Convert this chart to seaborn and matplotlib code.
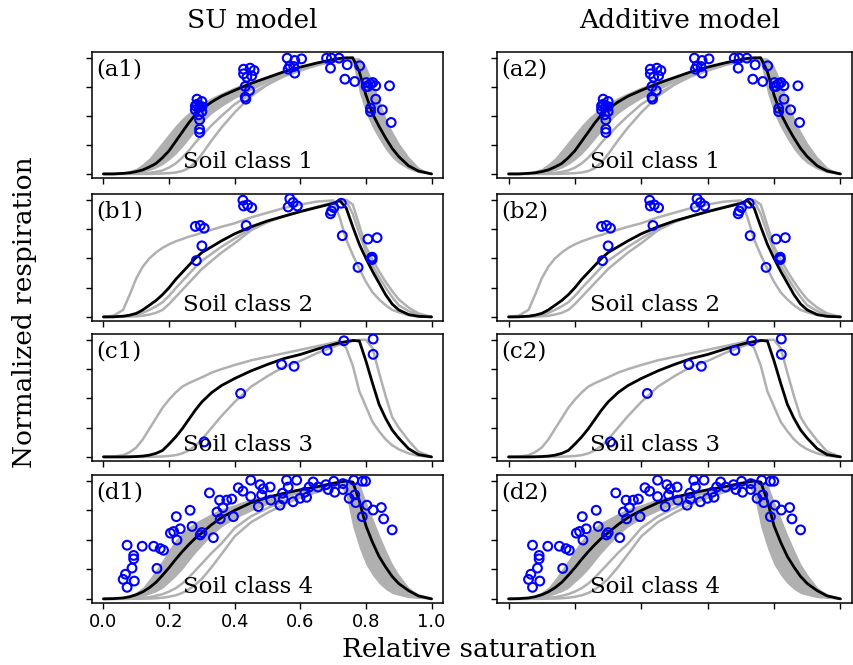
import numpy as np
import matplotlib
matplotlib.use('Agg')
import matplotlib.pyplot as plt
import seaborn as sns

# relative saturation grid used for all model curves
sat = [0, .03, .06, .08, .1, .12, .14, .16, .18, .2, .22, .24, .26, .28, .3, .33, .36,
       .4, .45, .5, .55, .6, .65, .7, .72, .74, .76, .78, .8, .82, .84, .86, .88, .9, .93, .96, 1.0]

# soil class 1
black_a = [0, 0, 0.005, 0.01, 0.02, 0.035, 0.06, 0.09, 0.14, 0.2, 0.28, 0.36, 0.44, 0.51, 0.56, 0.62, 0.67,
           0.72, 0.78, 0.83, 0.88, 0.92, 0.955, 0.985, 0.995, 1.0, 1.0, 0.88, 0.68, 0.52, 0.41, 0.31, 0.22, 0.15, 0.07, 0.025, 0]
band_hi_a = [0, 0.003, 0.015, 0.03, 0.05, 0.09, 0.14, 0.21, 0.28, 0.35, 0.42, 0.48, 0.53, 0.57, 0.61, 0.66, 0.70,
             0.75, 0.8, 0.845, 0.885, 0.925, 0.96, 0.99, 1.0, 1.0, 1.0, 1.0, 0.93, 0.8, 0.64, 0.49, 0.37, 0.27, 0.15, 0.06, 0]
band_lo_a = [0, 0, 0.003, 0.006, 0.01, 0.018, 0.03, 0.05, 0.08, 0.12, 0.17, 0.23, 0.3, 0.37, 0.44, 0.52, 0.58,
             0.65, 0.72, 0.79, 0.85, 0.9, 0.94, 0.975, 0.985, 0.99, 0.95, 0.7, 0.52, 0.4, 0.3, 0.21, 0.14, 0.09, 0.04, 0.01, 0]
ga1 = [0, 0, 0, 0, 0, 0, 0, 0.002, 0.004, 0.007, 0.012, 0.025, 0.05, 0.1, 0.17, 0.29, 0.4,
       0.53, 0.67, 0.77, 0.85, 0.9, 0.94, 0.975, 0.985, 0.995, 1.0, 0.88, 0.7, 0.55, 0.42, 0.31, 0.22, 0.15, 0.07, 0.025, 0]
ga2 = [0, 0, 0.001, 0.002, 0.003, 0.006, 0.01, 0.018, 0.03, 0.055, 0.09, 0.14, 0.2, 0.27, 0.33, 0.42, 0.5,
       0.6, 0.69, 0.77, 0.84, 0.89, 0.935, 0.97, 0.98, 0.99, 1.0, 0.92, 0.76, 0.6, 0.47, 0.36, 0.26, 0.18, 0.09, 0.03, 0]

# soil class 2
black_b = [0, 0.001, 0.006, 0.015, 0.03, 0.06, 0.1, 0.14, 0.19, 0.25, 0.32, 0.38, 0.44, 0.5, 0.55, 0.6, 0.65,
           0.71, 0.77, 0.82, 0.86, 0.9, 0.935, 0.97, 0.995, 0.93, 0.77, 0.62, 0.5, 0.39, 0.29, 0.19, 0.11, 0.06, 0.02, 0.005, 0]
gb1 = [0, 0.01, 0.06, 0.19, 0.33, 0.43, 0.5, 0.55, 0.59, 0.62, 0.645, 0.665, 0.685, 0.7, 0.72, 0.745, 0.77,
       0.8, 0.85, 0.89, 0.93, 0.96, 0.985, 0.995, 0.85, 0.66, 0.53, 0.41, 0.3, 0.21, 0.15, 0.1, 0.06, 0.04, 0.015, 0.004, 0]
gb2 = [0, 0, 0.001, 0.003, 0.005, 0.01, 0.02, 0.035, 0.06, 0.11, 0.17, 0.23, 0.29, 0.35, 0.41, 0.48, 0.55,
       0.63, 0.74, 0.81, 0.86, 0.9, 0.94, 0.975, 0.99, 1.0, 0.96, 0.78, 0.6, 0.49, 0.39, 0.3, 0.22, 0.15, 0.08, 0.03, 0]
gb3 = [0, 0.001, 0.003, 0.009, 0.018, 0.035, 0.06, 0.09, 0.125, 0.18, 0.245, 0.305, 0.365, 0.425, 0.48, 0.54, 0.6,
       0.67, 0.755, 0.815, 0.86, 0.9, 0.937, 0.972, 0.99, 0.99, 0.88, 0.71, 0.56, 0.44, 0.34, 0.25, 0.17, 0.1, 0.05, 0.015, 0]

# soil class 3
black_c = [0, 0, 0, 0.001, 0.003, 0.007, 0.015, 0.03, 0.055, 0.11, 0.17, 0.24, 0.32, 0.4, 0.47, 0.55, 0.61,
           0.67, 0.735, 0.79, 0.84, 0.875, 0.92, 0.96, 0.975, 0.985, 0.995, 0.99, 0.82, 0.63, 0.45, 0.33, 0.23, 0.16, 0.07, 0.02, 0]
gc1 = [0, 0.002, 0.015, 0.04, 0.08, 0.15, 0.24, 0.33, 0.42, 0.49, 0.55, 0.6, 0.63, 0.655, 0.68, 0.72, 0.75,
       0.785, 0.825, 0.855, 0.885, 0.915, 0.945, 0.975, 0.99, 0.93, 0.78, 0.56, 0.43, 0.3, 0.22, 0.15, 0.1, 0.065, 0.03, 0.01, 0]
gc2 = [0, 0, 0, 0, 0, 0, 0.001, 0.002, 0.004, 0.008, 0.015, 0.03, 0.055, 0.095, 0.15, 0.25, 0.35,
       0.47, 0.6, 0.69, 0.77, 0.82, 0.885, 0.94, 0.96, 0.975, 0.99, 1.0, 1.0, 0.93, 0.72, 0.52, 0.34, 0.25, 0.14, 0.045, 0]

# soil class 4
black_d = [0, 0.002, 0.008, 0.018, 0.035, 0.06, 0.095, 0.14, 0.2, 0.265, 0.335, 0.4, 0.46, 0.515, 0.56, 0.63, 0.69,
           0.75, 0.815, 0.86, 0.895, 0.925, 0.95, 0.98, 0.99, 1.0, 0.99, 0.83, 0.62, 0.48, 0.36, 0.27, 0.19, 0.13, 0.07, 0.025, 0]
band_hi_d = [0, 0.003, 0.015, 0.035, 0.06, 0.1, 0.17, 0.25, 0.33, 0.42, 0.5, 0.56, 0.61, 0.65, 0.68, 0.725, 0.765,
             0.8, 0.85, 0.88, 0.91, 0.935, 0.96, 0.985, 0.995, 1.0, 1.0, 0.98, 0.83, 0.69, 0.55, 0.42, 0.3, 0.21, 0.1, 0.03, 0]
band_lo_d = [0, 0, 0.003, 0.006, 0.01, 0.02, 0.04, 0.06, 0.09, 0.14, 0.19, 0.25, 0.32, 0.39, 0.45, 0.54, 0.61,
             0.68, 0.745, 0.8, 0.855, 0.9, 0.935, 0.97, 0.975, 0.87, 0.61, 0.43, 0.29, 0.2, 0.13, 0.08, 0.045, 0.03, 0.01, 0.003, 0]
gd1 = [0, 0, 0, 0, 0.001, 0.002, 0.003, 0.005, 0.01, 0.018, 0.03, 0.05, 0.08, 0.12, 0.17, 0.27, 0.38,
       0.53, 0.65, 0.73, 0.8, 0.86, 0.905, 0.95, 0.97, 0.98, 0.99, 0.9, 0.72, 0.56, 0.43, 0.32, 0.23, 0.16, 0.08, 0.03, 0]
gd2 = [0, 0, 0.001, 0.002, 0.004, 0.008, 0.015, 0.026, 0.04, 0.062, 0.09, 0.13, 0.18, 0.24, 0.3, 0.39, 0.47,
       0.6, 0.7, 0.77, 0.83, 0.88, 0.92, 0.96, 0.975, 0.98, 0.97, 0.8, 0.6, 0.45, 0.33, 0.24, 0.17, 0.11, 0.05, 0.015, 0]

# observations
a_x = [0.285, 0.300, 0.280, 0.293, 0.280, 0.300, 0.290, 0.293, 0.293, 0.293, 0.285, 0.300,
       0.427, 0.447, 0.459, 0.427, 0.452, 0.437, 0.432, 0.445, 0.432, 0.434,
       0.560, 0.583, 0.604, 0.568, 0.580, 0.563, 0.583,
       0.680, 0.695, 0.718, 0.692, 0.743, 0.781, 0.736, 0.766,
       0.801, 0.814, 0.830, 0.806, 0.801, 0.821, 0.830, 0.814, 0.814, 0.850, 0.872, 0.877]
a_y = [0.644, 0.624, 0.586, 0.580, 0.552, 0.537, 0.509, 0.466, 0.386, 0.357, 0.600, 0.580,
       0.902, 0.911, 0.891, 0.862, 0.845, 0.833, 0.753, 0.718, 0.661, 0.644,
       0.997, 0.977, 0.991, 0.931, 0.925, 0.902, 0.868,
       0.997, 0.997, 0.997, 0.911, 0.940, 0.931, 0.816, 0.796,
       0.787, 0.776, 0.759, 0.753, 0.753, 0.787, 0.644, 0.566, 0.537, 0.552, 0.759, 0.443]
b_x = [0.280, 0.295, 0.307, 0.300, 0.283, 0.425, 0.427, 0.439, 0.452, 0.435, 0.568, 0.563, 0.578,
       0.591, 0.695, 0.702, 0.692, 0.725, 0.728, 0.776, 0.806, 0.834, 0.819, 0.819, 0.816]
b_y = [0.773, 0.781, 0.758, 0.607, 0.481, 0.997, 0.948, 0.957, 0.933, 0.781, 1.010, 0.939, 0.977,
       0.948, 0.904, 0.933, 0.881, 0.971, 0.694, 0.423, 0.665, 0.677, 0.510, 0.490, 0.500]
c_x = [0.307, 0.418, 0.543, 0.581, 0.682, 0.733, 0.822, 0.822]
c_y = [0.128, 0.542, 0.789, 0.774, 0.910, 0.992, 1.007, 0.876]
d_x = [0.072, 0.092, 0.092, 0.087, 0.067, 0.060, 0.072, 0.094, 0.118, 0.153, 0.173, 0.183, 0.163,
       0.204, 0.214, 0.224, 0.222, 0.234, 0.264, 0.270, 0.295, 0.300, 0.323, 0.335, 0.346, 0.354,
       0.356, 0.364, 0.376, 0.391, 0.396, 0.411, 0.425, 0.449, 0.449, 0.472, 0.477, 0.482, 0.487,
       0.508, 0.510, 0.538, 0.546, 0.548, 0.558, 0.563, 0.578, 0.589, 0.599, 0.614, 0.619, 0.627,
       0.639, 0.654, 0.678, 0.685, 0.702, 0.705, 0.730, 0.730, 0.749, 0.763, 0.766, 0.769, 0.789,
       0.789, 0.799, 0.803, 0.822, 0.847, 0.854, 0.880]
d_y = [0.455, 0.368, 0.339, 0.261, 0.209, 0.165, 0.098, 0.151, 0.446, 0.446, 0.426, 0.412, 0.258,
       0.557, 0.571, 0.499, 0.697, 0.594, 0.751, 0.614, 0.542, 0.562, 0.898, 0.519, 0.736, 0.837,
       0.678, 0.774, 0.837, 0.846, 0.697, 0.942, 0.913, 1.006, 0.867, 0.783, 0.968, 0.881, 0.933,
       0.948, 0.837, 0.794, 0.896, 0.846, 1.006, 0.948, 0.823, 1.006, 0.852, 0.904, 0.861, 0.948,
       0.991, 0.948, 0.968, 0.927, 0.997, 0.904, 0.927, 0.977, 0.852, 1.006, 0.881, 0.816, 0.697,
       0.997, 0.997, 0.794, 0.753, 0.774, 0.678, 0.585]

tick_vals = [0.0, 0.2, 0.4, 0.6, 0.8, 1.0]
tick_text = ['0.0', '0.2', '0.4', '0.6', '0.8', '1.0']
col_titles = ['SU model', 'Additive model']
soil_names = ['Soil class 1', 'Soil class 2', 'Soil class 3', 'Soil class 4']
row_tags = ['a', 'b', 'c', 'd']

panels = [
    dict(black=black_a, band=(band_lo_a, band_hi_a), gray=[ga1, ga2], px=a_x, py=a_y),
    dict(black=black_b, band=None, gray=[gb1, gb2, gb3], px=b_x, py=b_y),
    dict(black=black_c, band=None, gray=[gc1, gc2], px=c_x, py=c_y),
    dict(black=black_d, band=(band_lo_d, band_hi_d), gray=[gd1, gd2], px=d_x, py=d_y),
]

sns.set_style('ticks')
plt.rcParams['font.family'] = ['DejaVu Serif']
for key in ['text.color', 'axes.labelcolor', 'xtick.color', 'ytick.color', 'axes.edgecolor']:
    plt.rcParams[key] = 'black'

W, H = 854, 665
fig = plt.figure(figsize=(W / 100, H / 100), dpi=100)
row_px = [(52, 178), (194, 321), (334, 461), (475, 603)]
col_px = [(92, 443), (497, 852)]
grey = '#b0b0b0'

for r, p in enumerate(panels):
    for c in range(2):
        top, bot = row_px[r]
        left, right = col_px[c]
        ax = fig.add_axes([left / W, 1 - bot / H, (right - left) / W, (bot - top) / H])
        if p['band'] is not None:
            ax.fill_between(sat, p['band'][0], p['band'][1], color=grey, lw=0)
        for g in p['gray']:
            sns.lineplot(x=sat, y=g, ax=ax, color=grey, lw=1.8)
        sns.lineplot(x=sat, y=p['black'], ax=ax, color='black', lw=2)
        ax.scatter(p['px'], p['py'], s=40, facecolors='none', edgecolors='blue',
                   linewidths=1.5, zorder=5)
        ax.set_xlim(-0.035, 1.035)
        ax.set_ylim(-0.035, 1.05)
        ax.set_xticks(tick_vals)
        ax.set_yticks([0, 0.25, 0.5, 0.75, 1.0])
        ax.set_yticklabels([])
        if r == 3 and c == 0:
            ax.set_xticklabels(tick_text)
        else:
            ax.set_xticklabels([])
        ax.tick_params(direction='out', length=4, width=1, labelsize=13,
                       labelfontfamily='DejaVu Sans')
        for s in ax.spines.values():
            s.set_linewidth(1.1)
        ax.text(0.013, 0.95, '(%s%d)' % (row_tags[r], c + 1), transform=ax.transAxes,
                fontsize=16.5, va='top', ha='left')
        ax.text(0.445, 0.08, soil_names[r], transform=ax.transAxes, fontsize=16.5,
                va='baseline', ha='center', zorder=6)

fig.text(252 / W, 1 - 28 / H, col_titles[0], fontsize=19, ha='center', va='baseline')
fig.text(680 / W, 1 - 28 / H, col_titles[1], fontsize=19, ha='center', va='baseline')
fig.text(25 / W, 0.531, 'Normalized respiration', fontsize=19, rotation=90,
         ha='center', va='center')
fig.text(469 / W, 1 - 657 / H, 'Relative saturation', fontsize=19, ha='center', va='baseline')

fig.savefig('out.png', dpi=100)
